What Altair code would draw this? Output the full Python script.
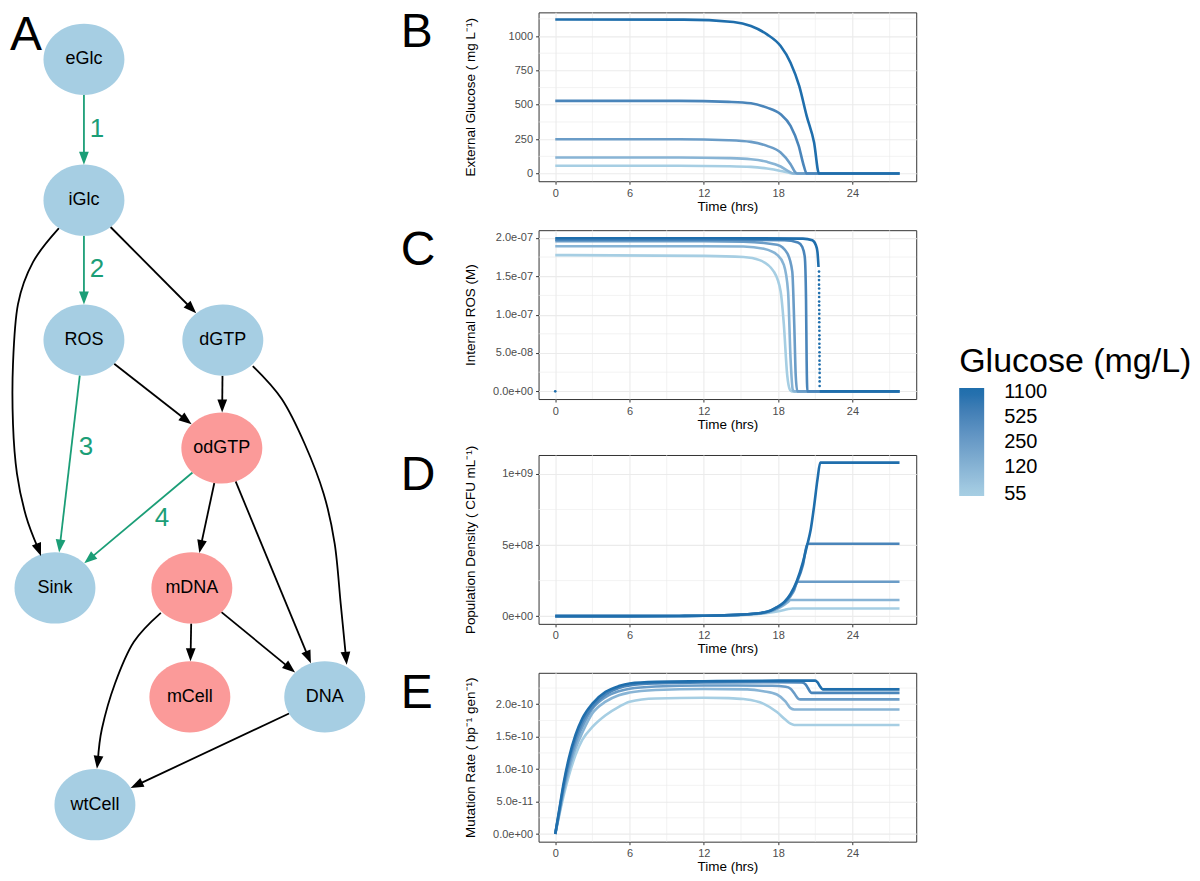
import math
import altair as alt
import pandas as pd

FONT = "Liberation Sans"
BLUE_NODE = "#A6CEE3"
PINK_NODE = "#FB9A99"
GREEN = "#1B9E77"
LOW = "#A6CEE3"
HIGH = "#1F6EAC"

# ------------------------------------------------------------------ Panel A data
node_names = ["eGlc", "iGlc", "ROS", "dGTP", "odGTP", "Sink", "mDNA", "mCell", "DNA", "wtCell"]
node_x = [82, 82, 82, 221, 220, 53, 190, 188, 323, 93]
node_y = [55, 196, 336, 336, 444, 584, 584, 693, 693, 801]
node_pink = ["odGTP", "mDNA", "mCell"]

edge_from = ["eGlc", "iGlc", "iGlc", "iGlc", "ROS", "ROS", "dGTP", "dGTP",
             "odGTP", "odGTP", "odGTP", "mDNA", "mDNA", "mDNA", "DNA"]
edge_to = ["iGlc", "ROS", "dGTP", "Sink", "Sink", "odGTP", "odGTP", "DNA",
           "Sink", "mDNA", "DNA", "mCell", "DNA", "wtCell", "wtCell"]
edge_green = [True, True, False, False, True, False, False, False,
              True, False, False, False, False, False, False]

curve_iglc_sink = [(57, 224), (31, 258), (16, 300), (11, 360), (11, 420), (15, 470), (24, 512), (39, 552)]
curve_dgtp_dna = [(251, 362), (280, 395), (303, 440), (322, 490), (333, 540), (339, 600), (345, 661)]
curve_mdna_wtcell = [(159, 609), (132, 638), (113, 680), (100, 725), (95, 765)]

edge_labels = ["1", "2", "3", "4"]
edge_label_x = [95, 95, 84, 160]
edge_label_y = [125, 265, 443, 514]

# ------------------------------------------------------------------ Panel B-E data
glucose_levels = [55, 120, 250, 525, 1100]
# colour bar limits (the bar runs a little past the lowest/highest level, as in the original)
bar_limits = [52, 1226]

# B: external glucose (mg/L)
b_t_55 = [0, 10, 14, 15.8, 17.1, 18.2, 19.0, 19.3, 27.8]
b_v_55 = [56, 56, 53, 48, 36, 19, 3, 0, 0]
b_t_120 = [0, 10, 14, 15.8, 17.1, 18.2, 18.85, 19.26, 27.8]
b_v_120 = [117, 117, 112, 104, 85, 51, 15, 0, 0]
b_t_250 = [0, 10, 14, 15.8, 17.1, 18.2, 19.0, 19.4, 19.55, 27.8]
b_v_250 = [249, 249, 242, 230, 201, 153, 68, 7, 0, 0]
b_t_525 = [0, 10, 14, 15.8, 17.1, 18.2, 19.0, 19.66, 20.07, 20.3, 27.8]
b_v_525 = [528, 528, 521, 511, 479, 431, 346, 201, 56, 0, 0]
b_t_1100 = [0, 10.4, 14.4, 15.8, 17.1, 18.2, 19.0, 19.7, 20.3, 20.9, 21.3, 27.8]
b_v_1100 = [1120, 1119, 1102, 1073, 1012, 927, 806, 637, 419, 225, 0, 0]

# C: internal ROS (M)
c_t_55 = [0, 12, 15.2, 16.5, 17.65, 18.2, 18.46, 18.73, 18.95, 19.1, 27.8]
c_v_55 = [1.775e-7, 1.765e-7, 1.75e-7, 1.71e-7, 1.56e-7, 1.30e-7, 0.87e-7, 0.21e-7, 0.02e-7, 0.0, 0.0]
c_t_120 = [0, 12, 15.2, 16.84, 17.92, 18.46, 18.8, 19.0, 19.18, 19.3, 27.8]
c_v_120 = [1.89e-7, 1.89e-7, 1.887e-7, 1.857e-7, 1.778e-7, 1.648e-7, 1.30e-7, 0.43e-7, 0.02e-7, 0.0, 0.0]
c_t_250 = [0, 12, 15.2, 17.92, 18.73, 19.14, 19.3, 19.42, 19.55, 27.8]
c_v_250 = [1.955e-7, 1.955e-7, 1.95e-7, 1.91e-7, 1.80e-7, 1.56e-7, 0.87e-7, 0.2e-7, 0.0, 0.0]
c_t_525 = [0, 12, 18.5, 19.6, 19.95, 20.15, 20.25, 20.3, 20.36, 27.8]
c_v_525 = [1.975e-7, 1.975e-7, 1.97e-7, 1.94e-7, 1.88e-7, 1.75e-7, 1.2e-7, 0.4e-7, 0.0, 0.0]
c_t_1100 = [0, 12, 20.0, 20.76, 21.03, 21.17, 21.26]
c_v_1100 = [1.995e-7, 1.995e-7, 1.99e-7, 1.97e-7, 1.91e-7, 1.82e-7, 1.62e-7]
c_t_1100_end = [21.36, 27.8]
c_v_1100_end = [0.0, 0.0]
c_dot_t = [0, 21.3, 21.3, 21.3, 21.3, 21.31, 21.31, 21.31, 21.31, 21.31, 21.32, 21.32, 21.32, 21.32,
           21.32, 21.33, 21.33, 21.33, 21.33, 21.33, 21.34, 21.34, 21.34, 21.34, 21.35, 21.35, 21.35,
           21.35, 21.35]
c_dot_v = [0.0, 1.56e-7, 1.50e-7, 1.45e-7, 1.39e-7, 1.34e-7, 1.28e-7, 1.23e-7, 1.17e-7, 1.12e-7,
           1.06e-7, 1.01e-7, 0.95e-7, 0.90e-7, 0.84e-7, 0.79e-7, 0.73e-7, 0.68e-7, 0.62e-7, 0.57e-7,
           0.51e-7, 0.46e-7, 0.40e-7, 0.35e-7, 0.29e-7, 0.24e-7, 0.18e-7, 0.13e-7, 0.07e-7]

# D: population density (CFU/mL)
d_t_55 = [0, 6, 10, 12, 14, 15, 16, 16.6, 17.4, 17.9, 18.5, 18.8, 19.15, 27.8]
d_v_55 = [1e5, 3e5, 1.2e6, 2.4e6, 5.5e6, 8e6, 1.3e7, 1.7e7, 2.6e7, 3.3e7, 4.4e7, 5.0e7, 5.35e7, 5.35e7]
d_t_120 = [0, 6, 10, 12, 14, 15, 16, 16.6, 17.4, 17.9, 18.5, 18.8, 19.0, 27.8]
d_v_120 = [1e5, 3e5, 1.3e6, 2.6e6, 6e6, 9e6, 1.5e7, 1.9e7, 3.3e7, 5.0e7, 8.0e7, 1.0e8, 1.14e8, 1.14e8]
d_t_250 = [0, 6, 10, 12, 14, 15, 16, 16.6, 17.4, 17.9, 18.5, 19.0, 19.3, 19.55, 27.8]
d_v_250 = [1e5, 3e5, 1.4e6, 2.8e6, 6.5e6, 1.0e7, 1.6e7, 2.1e7, 3.7e7, 5.7e7, 9.0e7, 1.4e8, 1.85e8, 2.42e8, 2.42e8]
d_t_525 = [0, 6, 10, 12, 14, 15, 16, 16.6, 17.4, 17.9, 18.5, 19.0, 19.5, 20.0, 20.36, 27.8]
d_v_525 = [1e5, 3e5, 1.5e6, 3e6, 7e6, 1.1e7, 1.7e7, 2.2e7, 3.9e7, 6.1e7, 9.7e7, 1.5e8, 2.35e8, 3.6e8,
           5.09e8, 5.09e8]
d_t_1100 = [0, 6, 10, 12, 14, 15, 16, 16.6, 17.4, 17.9, 18.5, 19.0, 19.5, 20.0, 20.36, 20.63, 20.9,
            21.17, 21.4, 27.8]
d_v_1100 = [1e5, 3e5, 1.5e6, 3e6, 7e6, 1.1e7, 1.7e7, 2.2e7, 4.0e7, 6.3e7, 1.0e8, 1.56e8, 2.45e8, 3.8e8,
            5.05e8, 6.09e8, 7.72e8, 9.58e8, 1.079e9, 1.079e9]

# E: mutation rate (per bp per generation)
e_t_55 = [0, 0.3, 0.7, 1.1, 1.64, 2.18, 3.0, 4.06, 5.13, 6.0, 8.1, 12, 14, 15.2, 16.8, 17.9, 18.6, 19.0, 19.3, 27.8]
e_v_55 = [0.0, 0.27e-10, 0.61e-10, 0.9e-10, 1.22e-10, 1.45e-10, 1.65e-10, 1.83e-10, 1.96e-10, 2.04e-10,
          2.09e-10, 2.10e-10, 2.095e-10, 2.08e-10, 2.01e-10, 1.88e-10, 1.76e-10, 1.70e-10, 1.68e-10, 1.68e-10]
e_t_120 = [0, 0.3, 0.7, 1.1, 1.64, 2.18, 3.0, 4.06, 5.13, 6.0, 8.1, 12, 15.5, 16.8, 17.9, 18.6, 19.0, 19.3, 27.8]
e_v_120 = [0.0, 0.29e-10, 0.67e-10, 0.98e-10, 1.32e-10, 1.56e-10, 1.86e-10, 2.04e-10, 2.14e-10, 2.18e-10,
           2.22e-10, 2.235e-10, 2.23e-10, 2.20e-10, 2.15e-10, 2.04e-10, 1.94e-10, 1.92e-10, 1.92e-10]
e_t_250 = [0, 0.3, 0.7, 1.1, 1.64, 2.18, 3.0, 4.06, 5.13, 6.0, 8.1, 12, 17.5, 18.6, 19.0, 19.3, 19.6, 19.8, 27.8]
e_v_250 = [0.0, 0.31e-10, 0.72e-10, 1.05e-10, 1.40e-10, 1.65e-10, 1.93e-10, 2.11e-10, 2.20e-10, 2.24e-10,
           2.275e-10, 2.29e-10, 2.285e-10, 2.27e-10, 2.24e-10, 2.17e-10, 2.09e-10, 2.075e-10, 2.075e-10]
e_t_525 = [0, 0.3, 0.7, 1.1, 1.64, 2.18, 3.0, 4.06, 5.13, 6.0, 8.1, 12, 18, 19.9, 20.2, 20.4, 20.7, 27.8]
e_v_525 = [0.0, 0.33e-10, 0.77e-10, 1.12e-10, 1.47e-10, 1.72e-10, 1.96e-10, 2.15e-10, 2.25e-10, 2.29e-10,
           2.32e-10, 2.335e-10, 2.34e-10, 2.335e-10, 2.31e-10, 2.25e-10, 2.175e-10, 2.175e-10]
e_t_1100 = [0, 0.3, 0.7, 1.1, 1.64, 2.18, 3.0, 4.06, 5.13, 6.0, 8.1, 12, 18, 21.0, 21.17, 21.4, 21.6, 27.8]
e_v_1100 = [0.0, 0.35e-10, 0.81e-10, 1.17e-10, 1.53e-10, 1.78e-10, 2.01e-10, 2.19e-10, 2.28e-10, 2.32e-10,
            2.345e-10, 2.355e-10, 2.365e-10, 2.365e-10, 2.34e-10, 2.27e-10, 2.23e-10, 2.23e-10]

# axis ticks / labels
time_ticks = [0, 6, 12, 18, 24]
time_minor = [3, 9, 15, 21, 27]
b_ticks = [0, 250, 500, 750, 1000]
b_tick_labels = ["0", "250", "500", "750", "1000"]
b_minor = [125, 375, 625, 875, 1125]
c_ticks = [0.0, 5e-08, 1e-07, 1.5e-07, 2e-07]
c_tick_labels = ["0.0e+00", "5.0e-08", "1.0e-07", "1.5e-07", "2.0e-07"]
c_minor = [2.5e-08, 7.5e-08, 1.25e-07, 1.75e-07]
d_ticks = [0.0, 5e8, 1e9]
d_tick_labels = ["0e+00", "5e+08", "1e+09"]
d_minor = [2.5e8, 7.5e8]
e_ticks = [0.0, 5e-11, 1e-10, 1.5e-10, 2e-10]
e_tick_labels = ["0.0e+00", "5.0e-11", "1.0e-10", "1.5e-10", "2.0e-10"]
e_minor = [2.5e-11, 7.5e-11, 1.25e-10, 1.75e-10, 2.25e-10]

# ------------------------------------------------------------------ Panel A chart
RX, RY = 40.5, 35.6
ARROW = 13.0
ELLIPSE = ("M-1,0C-1,-0.486,-0.552,-0.88,0,-0.88C0.552,-0.88,1,-0.486,1,0"
           "C1,0.486,0.552,0.88,0,0.88C-0.552,0.88,-1,0.486,-1,0Z")
ARROW_PATH = "M0,-1L0.75,1L-0.75,1Z"


def boundary(cx, cy, ux, uy):
    r = 1.0 / math.sqrt((ux / RX) ** 2 + (uy / RY) ** 2)
    return cx + ux * r, cy + uy * r


pos = {n: (x, y) for n, x, y in zip(node_names, node_x, node_y)}
curves = {("iGlc", "Sink"): curve_iglc_sink, ("dGTP", "DNA"): curve_dgtp_dna,
          ("mDNA", "wtCell"): curve_mdna_wtcell}
line_rows, arrow_rows = [], []
for i, (a, b, g) in enumerate(zip(edge_from, edge_to, edge_green)):
    if (a, b) in curves:
        pts = list(curves[(a, b)])
    else:
        (ax, ay), (bx, by) = pos[a], pos[b]
        d = math.hypot(bx - ax, by - ay)
        ux, uy = (bx - ax) / d, (by - ay) / d
        pts = [boundary(ax, ay, ux, uy), boundary(bx, by, -ux, -uy)]
    (px, py), (tx, ty) = pts[-2], pts[-1]
    d = math.hypot(tx - px, ty - py)
    ux, uy = (tx - px) / d, (ty - py) / d
    pts[-1] = (tx - ux * ARROW * 0.6, ty - uy * ARROW * 0.6)
    for k, (x, y) in enumerate(pts):
        line_rows.append(dict(edge=i, seq=k, x=x, y=y, green=g))
    ang = math.degrees(math.atan2(ux, -uy)) % 360
    arrow_rows.append(dict(x=tx - ux * ARROW / 2, y=ty - uy * ARROW / 2, ang=ang, green=g))

edges_df = pd.DataFrame(line_rows)
arrows_df = pd.DataFrame(arrow_rows)
nodes_df = pd.DataFrame({"name": node_names, "x": node_x, "y": node_y})
nodes_df["pink"] = nodes_df["name"].isin(node_pink)
elab_df = pd.DataFrame({"t": edge_labels, "x": edge_label_x, "y": edge_label_y})

NX = alt.X("x:Q", scale=alt.Scale(domain=[8, 388], nice=False, zero=False), axis=None)
NY = alt.Y("y:Q", scale=alt.Scale(domain=[8, 858], nice=False, zero=False, reverse=True), axis=None)

net_layers = []
for g, col in [(False, "black"), (True, GREEN)]:
    net_layers.append(
        alt.Chart(edges_df[edges_df.green == g]).mark_line(
            color=col, strokeWidth=1.8, interpolate="cardinal"
        ).encode(x=NX, y=NY, detail="edge:N", order="seq:Q")
    )
for p, col in [(False, BLUE_NODE), (True, PINK_NODE)]:
    net_layers.append(
        alt.Chart(nodes_df[nodes_df.pink == p]).mark_point(
            shape=ELLIPSE, filled=True, size=6561, opacity=1, strokeWidth=0, color=col
        ).encode(x=NX, y=NY)
    )
for g, col in [(False, "black"), (True, GREEN)]:
    net_layers.append(
        alt.Chart(arrows_df[arrows_df.green == g]).mark_point(
            shape=ARROW_PATH, filled=True, size=ARROW * ARROW, opacity=1, strokeWidth=0, color=col
        ).encode(x=NX, y=NY, angle=alt.Angle("ang:Q", scale=None))
    )
net_layers.append(
    alt.Chart(nodes_df).mark_text(fontSize=18, font=FONT, color="black").encode(x=NX, y=NY, text="name:N")
)
net_layers.append(
    alt.Chart(elab_df).mark_text(fontSize=26, font=FONT, color=GREEN).encode(x=NX, y=NY, text="t:N")
)
net_layers.append(
    alt.Chart(pd.DataFrame({"l": ["A"]})).mark_text(
        fontSize=48, font=FONT, color="black", align="left", baseline="top"
    ).encode(text="l:N", x=alt.value(0), y=alt.value(0))
)
network = alt.layer(*net_layers).properties(
    width=380, height=850, view=alt.ViewBackground(stroke="transparent")
)

# ------------------------------------------------------------------ Panels B-E
color_enc = alt.Color(
    "glucose:Q",
    scale=alt.Scale(
        type="log",
        domain=[bar_limits[0], glucose_levels[0], glucose_levels[-1], bar_limits[1]],
        range=[LOW, LOW, HIGH, HIGH],
        interpolate="lab",
    ),
    legend=alt.Legend(
        type="gradient",
        title="Glucose (mg/L)", orient="none", legendX=950, legendY=333, direction="vertical",
        gradientLength=108, gradientThickness=25, values=glucose_levels, format="d",
        labelFontSize=20, titleFontSize=34, labelOffset=20, titlePadding=9, titleLimit=400,
        labelOverlap=False, labelColor="black", titleColor="black", titleFontWeight="normal",
        titleFont=FONT, labelFont=FONT, gradientStrokeWidth=0, padding=0,
    ),
)


def series_df(pairs):
    rows = []
    for glc, seg, ts, vs in pairs:
        for t, v in zip(ts, vs):
            rows.append(dict(glucose=glc, seg=seg, t=t, v=v))
    return pd.DataFrame(rows)


def label_expr(vals, labs):
    return "[" + ",".join("'%s'" % s for s in labs) + "][indexof([" + ",".join(repr(v) for v in vals) + "], datum.value)]"


def panel(df, letter, ytitle, ydomain, yticks, ylabels, yminor, extra=None):
    xs = alt.Scale(domain=[-1.35, 29.15], nice=False, zero=False)
    ys = alt.Scale(domain=ydomain, nice=False, zero=False)
    xaxis = alt.Axis(values=time_ticks, format="d", title="Time (hrs)")
    yaxis = alt.Axis(values=yticks, labelExpr=label_expr(yticks, ylabels), title=ytitle,
                     titleX=-61, titleBaseline="bottom")
    mx = alt.Chart(pd.DataFrame({"g": time_minor})).mark_rule(color="#EBEBEB", strokeWidth=0.6).encode(
        x=alt.X("g:Q", scale=xs, axis=xaxis))
    my = alt.Chart(pd.DataFrame({"g": yminor})).mark_rule(color="#EBEBEB", strokeWidth=0.6).encode(
        y=alt.Y("g:Q", scale=ys, axis=yaxis))
    lines = alt.Chart(df).mark_line(strokeWidth=2.6, interpolate="monotone").encode(
        x=alt.X("t:Q", scale=xs, axis=xaxis),
        y=alt.Y("v:Q", scale=ys, axis=yaxis),
        color=color_enc,
        detail="seg:N",
    )
    layers = [mx, my, lines]
    if extra is not None:
        layers.append(extra(xs, ys, xaxis, yaxis))
    layers.append(
        alt.Chart(pd.DataFrame({"l": [letter]})).mark_text(
            fontSize=48, font=FONT, color="black", align="left", baseline="top"
        ).encode(text="l:N", x=alt.value(-138), y=alt.value(-3))
    )
    return alt.layer(*layers).properties(width=378, height=169)


df_b = series_df([(55, "a", b_t_55, b_v_55), (120, "a", b_t_120, b_v_120), (250, "a", b_t_250, b_v_250),
                  (525, "a", b_t_525, b_v_525), (1100, "a", b_t_1100, b_v_1100)])
df_c = series_df([(55, "a", c_t_55, c_v_55), (120, "a", c_t_120, c_v_120), (250, "a", c_t_250, c_v_250),
                  (525, "a", c_t_525, c_v_525), (1100, "a", c_t_1100, c_v_1100),
                  (1100, "b", c_t_1100_end, c_v_1100_end)])
df_c_dots = series_df([(1100, "d", c_dot_t, c_dot_v)])
df_d = series_df([(55, "a", d_t_55, d_v_55), (120, "a", d_t_120, d_v_120), (250, "a", d_t_250, d_v_250),
                  (525, "a", d_t_525, d_v_525), (1100, "a", d_t_1100, d_v_1100)])
df_e = series_df([(55, "a", e_t_55, e_v_55), (120, "a", e_t_120, e_v_120), (250, "a", e_t_250, e_v_250),
                  (525, "a", e_t_525, e_v_525), (1100, "a", e_t_1100, e_v_1100)])


def c_dots(xs, ys, xaxis, yaxis):
    # the dotted drop belongs to the 1100 mg/L series, whose colour is the top of the gradient
    return alt.Chart(df_c_dots).mark_circle(size=7, opacity=1, color=HIGH).encode(
        x=alt.X("t:Q", scale=xs, axis=xaxis), y=alt.Y("v:Q", scale=ys, axis=yaxis))


pB = panel(df_b, "B", "External Glucose ( mg L\u207b\u00b9)", [-56, 1172], b_ticks, b_tick_labels, b_minor)
pC = panel(df_c, "C", "Internal ROS (M)", [-1e-8, 2.1e-7], c_ticks, c_tick_labels, c_minor, extra=c_dots)
pD = panel(df_d, "D", "Population Density ( CFU mL\u207b\u00b9)", [-5.4e7, 1.133e9], d_ticks, d_tick_labels, d_minor)
pE = panel(df_e, "E", "Mutation Rate ( bp\u207b\u00b9 gen\u207b\u00b9)", [-1.18e-11, 2.485e-10], e_ticks,
           e_tick_labels, e_minor)

right = alt.vconcat(pB, pC, pD, pE, spacing=13)

chart = alt.hconcat(network, right, spacing=9).properties(
    padding=0, background="white"
).configure_view(
    stroke="#333333", strokeWidth=1
).configure_axis(
    labelFont=FONT, titleFont=FONT, labelFontSize=11, titleFontSize=13.5, labelColor="#4D4D4D",
    titleColor="black", titleFontWeight="normal", tickColor="#333333", tickSize=3, tickWidth=1,
    domain=False, gridColor="#EBEBEB", gridWidth=1.1, labelPadding=3, titlePadding=1,
)

chart.save("out.html", embed_options={"renderer": "svg", "actions": False})
